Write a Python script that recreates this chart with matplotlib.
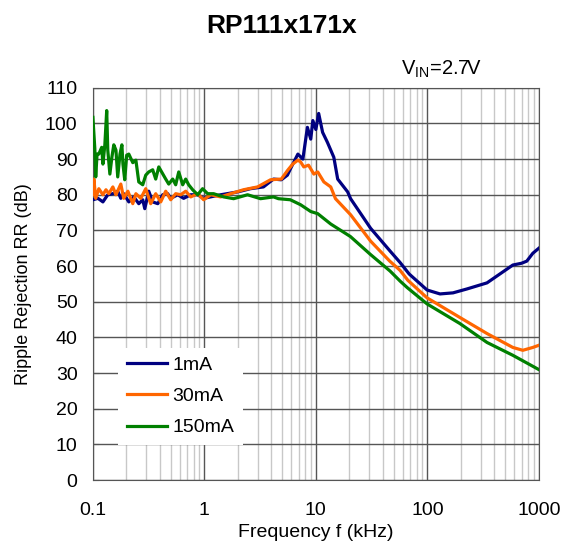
import numpy as np
import matplotlib
matplotlib.use("Agg")
import matplotlib.pyplot as plt
from matplotlib.ticker import FixedLocator, FuncFormatter, LogLocator, NullFormatter

plt.rcParams['font.family'] = ['Liberation Sans', 'DejaVu Sans']

# Ripple rejection vs frequency (kHz, dB)
freq_1ma = [0.1, 0.111, 0.123, 0.136, 0.151, 0.167, 0.178, 0.189, 0.210, 0.233,
            0.258, 0.280, 0.292, 0.317, 0.344, 0.382, 0.423, 0.469, 0.499, 0.577,
            0.652, 0.754, 0.871, 0.985, 1.40, 1.99, 2.59, 3.39, 4.17, 4.9,
            5.56, 5.9, 6.9, 7.65, 8.4, 9.0, 9.4, 10.0, 10.6, 11.5,
            12.7, 14.5, 15.7, 19.3, 20.5, 31, 46.4, 57, 68.7, 99.5,
            130, 170, 227, 343, 448, 585, 700, 781, 884, 1000]
rr_1ma = [78.6, 79, 78, 80, 80.3, 81, 79, 80.3, 78, 79.4,
          77.5, 78.6, 76.1, 81, 78, 77.5, 80, 80.3, 79, 80,
          79, 80, 80, 79, 80, 80.8, 81.7, 82.2, 84.4, 84.2,
          85.5, 87.2, 91.4, 90, 98.9, 95.6, 100.8, 98.3, 102.8, 97.5,
          94.7, 90.5, 84.4, 80.8, 78.9, 70.6, 64.2, 61, 57.8, 53.3,
          52.2, 52.5, 53.6, 55.3, 57.8, 60.3, 60.8, 61.4, 63.6, 65]

freq_30ma = [0.1, 0.102, 0.106, 0.113, 0.123, 0.131, 0.139, 0.151, 0.161, 0.178,
             0.189, 0.206, 0.228, 0.243, 0.269, 0.298, 0.330, 0.366, 0.406, 0.450,
             0.499, 0.553, 0.613, 0.680, 0.754, 0.871, 0.985, 1.14, 1.40, 1.72,
             2.24, 3.00, 3.92, 4.9, 5.6, 6.2, 6.9, 7.3, 7.8, 8.6,
             9.6, 10.4, 11.8, 13.6, 15, 20.5, 31, 46, 57, 67,
             99.5, 196, 343, 585, 719, 884, 1000]
rr_30ma = [80, 84.4, 79, 81.7, 80, 81.4, 80.3, 82.2, 80, 83,
           79, 81, 77.5, 80.3, 79, 81.7, 77.5, 80.3, 78, 81,
           78.6, 80.3, 80, 81, 79.4, 80.3, 78.6, 80, 79.4, 80.3,
           81.4, 82.2, 84.2, 84.4, 86.9, 88.6, 89.7, 89.2, 87.8, 88.3,
           85.8, 86.4, 83.6, 82.2, 78.9, 74.4, 67, 61.4, 58.8, 56,
           51.1, 45.6, 41.1, 37.2, 36.4, 37.2, 37.8]

freq_150ma = [0.1, 0.104, 0.106, 0.109, 0.113, 0.120, 0.123, 0.128, 0.133, 0.136,
              0.142, 0.148, 0.154, 0.161, 0.167, 0.175, 0.182, 0.186, 0.193, 0.201,
              0.210, 0.228, 0.243, 0.258, 0.280, 0.298, 0.317, 0.344, 0.366, 0.390,
              0.450, 0.479, 0.520, 0.553, 0.589, 0.639, 0.680, 0.723, 0.785, 0.871,
              0.964, 1.07, 1.21, 1.49, 1.83, 2.44, 3.19, 4.17, 4.62, 5.9,
              7.3, 9.0, 10.4, 13.6, 20.4, 30.8, 46.4, 57, 65.9, 99.5,
              196, 343, 585, 1000]
rr_150ma = [101.7, 93, 85, 91.4, 91.4, 93.3, 88.6, 94, 103.6, 92.5,
            85.8, 90.5, 94, 92.5, 85, 91.4, 94, 88.6, 84.2, 91.1,
            91.4, 89, 89.7, 83.6, 82.8, 85.5, 86.4, 87, 84.4, 87.8,
            84.4, 83, 84.4, 82.8, 86.4, 82.8, 84.4, 82.8, 81.4, 80,
            81.7, 80.3, 80.3, 79.4, 78.9, 80, 78.9, 79.4, 78.9, 78.6,
            77.2, 75.3, 74.7, 71.8, 68.3, 63.3, 58.6, 55.8, 54, 49.4,
            43.9, 38.6, 35, 31]

series = [
    ('1mA', freq_1ma, rr_1ma, '#000080'),
    ('30mA', freq_30ma, rr_30ma, '#ff6600'),
    ('150mA', freq_150ma, rr_150ma, '#008000'),
]

fig = plt.figure(figsize=(5.63, 5.45), dpi=100)
ax = fig.add_axes([0.165, 0.119, 0.792, 0.720])

for name, f, rr, col in series:
    ax.plot(f, rr, color=col, lw=2.3, label=name, zorder=3)

ax.set_xscale('log')
ax.set_xlim(0.1, 1000)
ax.set_ylim(0, 110)
ax.xaxis.set_major_locator(FixedLocator([0.1, 1, 10, 100, 1000]))
ax.xaxis.set_major_formatter(FuncFormatter(lambda v, p: '%g' % v))
ax.xaxis.set_minor_locator(LogLocator(base=10, subs=np.arange(2, 10)))
ax.xaxis.set_minor_formatter(NullFormatter())
ax.set_yticks(np.arange(0, 111, 10))

ax.grid(which='major', color='#555555', lw=1.0, zorder=1)
ax.grid(which='minor', axis='x', color='#c8c8c8', lw=1.0, zorder=0)
for s in ax.spines.values():
    s.set_color('#555555')
ax.tick_params(which='both', direction='in', labelsize=14, color='#555555')
ax.tick_params(which='minor', length=0)
ax.tick_params(axis='y', which='major', length=4, pad=11)
ax.tick_params(axis='x', which='major', length=0, pad=16)

ax.set_xlabel('Frequency f (kHz)', fontsize=14, labelpad=3)
ax.set_ylabel('Ripple Rejection RR (dB)', fontsize=13, labelpad=9)

fig.text(0.5, 0.953, 'RP111x171x', ha='center', va='center', fontsize=19, fontweight='bold')
fig.text(0.712, 0.872, r'V$_{\mathregular{IN}}$=2.7V', ha='left', va='center', fontsize=14.5)

leg = ax.legend(loc='lower left', bbox_to_anchor=(0.056, 0.089), fontsize=14,
                frameon=True, fancybox=False, edgecolor='none', facecolor='white',
                framealpha=1, handlelength=2.1, handletextpad=0.25,
                labelspacing=0.7, borderpad=0.45, borderaxespad=0)
leg.set_zorder(5)

fig.savefig('out.png', dpi=100)
